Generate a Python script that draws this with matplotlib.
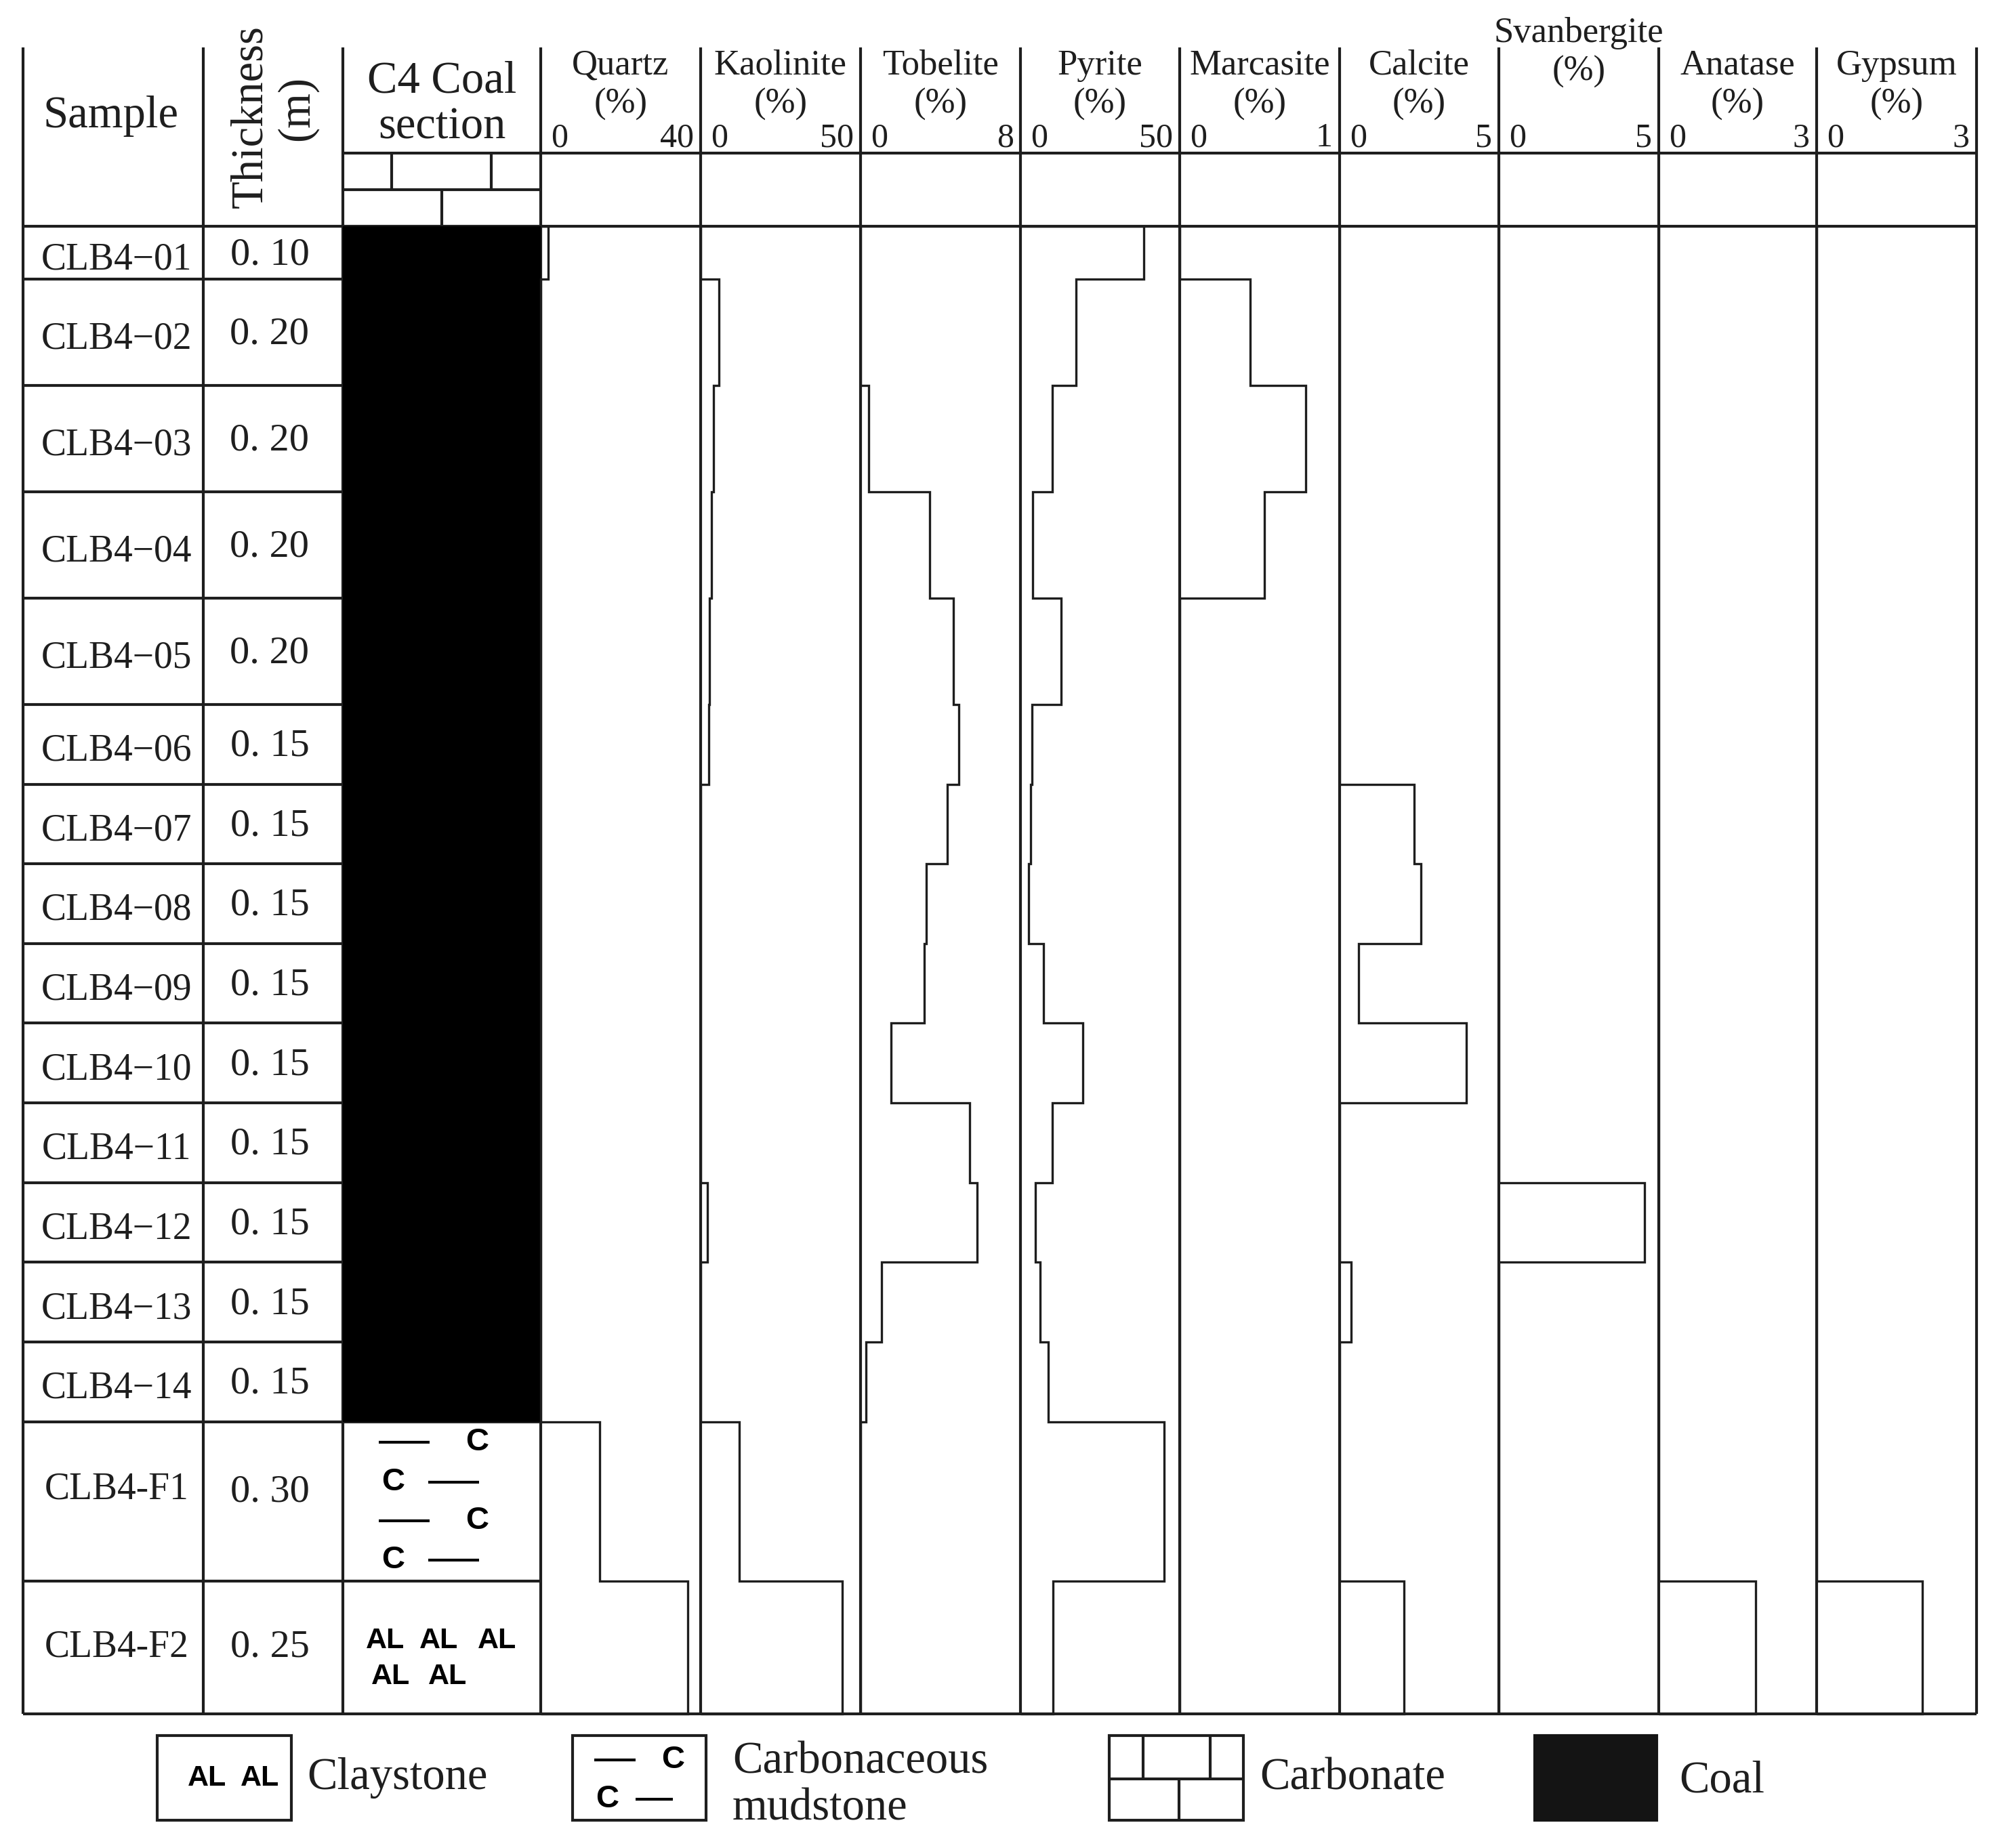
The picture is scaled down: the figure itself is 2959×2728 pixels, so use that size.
import matplotlib
matplotlib.use('Agg')
import matplotlib.pyplot as plt
import numpy as np

# ---------------- data ----------------
samples = ['CLB4−01', 'CLB4−02', 'CLB4−03', 'CLB4−04', 'CLB4−05', 'CLB4−06',
           'CLB4−07', 'CLB4−08', 'CLB4−09', 'CLB4−10', 'CLB4−11', 'CLB4−12',
           'CLB4−13', 'CLB4−14', 'CLB4-F1', 'CLB4-F2']
thickness = [0.10, 0.20, 0.20, 0.20, 0.20, 0.15, 0.15, 0.15, 0.15, 0.15,
             0.15, 0.15, 0.15, 0.15, 0.30, 0.25]
thickness_labels = ['0. 10', '0. 20', '0. 20', '0. 20', '0. 20', '0. 15',
                    '0. 15', '0. 15', '0. 15', '0. 15', '0. 15', '0. 15',
                    '0. 15', '0. 15', '0. 30', '0. 25']
lithology = ['Coal'] * 14 + ['Carbonaceous mudstone', 'Claystone']

minerals = ['Quartz', 'Kaolinite', 'Tobelite', 'Pyrite', 'Marcasite',
            'Calcite', 'Svanbergite', 'Anatase', 'Gypsum']
mineral_max = [40, 50, 8, 50, 1, 5, 5, 3, 3]

quartz = [1.8, 0, 0, 0, 0, 0, 0, 0, 0, 0, 0, 0, 0, 0, 14.7, 36.8]
kaolinite = [0, 5.7, 4.0, 3.4, 2.8, 2.5, 0, 0, 0, 0, 0, 2.2, 0, 0, 12.0, 44.2]
tobelite = [0, 0, 0.39, 3.46, 4.64, 4.92, 4.34, 3.28, 3.2, 1.53, 5.46, 5.83,
            1.05, 0.27, 0, 0]
pyrite = [38.7, 17.5, 10.1, 3.9, 12.7, 3.6, 3.1, 2.6, 7.3, 19.5, 9.9, 4.7,
          6.1, 8.8, 45.0, 10.2]
marcasite = [0, 0.44, 0.79, 0.53, 0, 0, 0, 0, 0, 0, 0, 0, 0, 0, 0, 0]
calcite = [0, 0, 0, 0, 0, 0, 2.33, 2.55, 0.6, 3.97, 0, 0, 0.37, 0, 0, 2.02]
svanbergite = [0, 0, 0, 0, 0, 0, 0, 0, 0, 0, 0, 4.56, 0, 0, 0, 0]
anatase = [0, 0, 0, 0, 0, 0, 0, 0, 0, 0, 0, 0, 0, 0, 0, 1.84]
gypsum = [0, 0, 0, 0, 0, 0, 0, 0, 0, 0, 0, 0, 0, 0, 0, 1.98]
series = [quartz, kaolinite, tobelite, pyrite, marcasite, calcite,
          svanbergite, anatase, gypsum]

legend_items = ['Claystone', 'Carbonaceous\nmudstone', 'Carbonate', 'Coal']

# ---------------- layout ----------------
W, H = 2959, 2728
DPI = 100
fig = plt.figure(figsize=(W / DPI, H / DPI), dpi=DPI)
fig.patch.set_facecolor('white')

SERIF = ['Liberation Serif', 'DejaVu Serif']
SANSN = ['Liberation Sans Narrow', 'Liberation Sans', 'DejaVu Sans']
INK = '#1e1e1e'
LW = 3.0
LW_STEP = 2.4

x_edges = [34, 300, 506, 798, 1034, 1270, 1506, 1741, 1977, 2212, 2448, 2681, 2917]
y_head_top = 70
y_tick_line = 226
y_carb_mid = 280
y_data_top = 334
y_data_bot = 2530

edges = np.concatenate([[0.0], np.cumsum(thickness)])
total = edges[-1]
px_per_m = (y_data_bot - y_data_top) / total


def fy(py):
    return 1 - py / H


# background axes (pixel coords)
bg = fig.add_axes([0, 0, 1, 1])
bg.set_xlim(0, W)
bg.set_ylim(H, 0)
bg.axis('off')

# table axes: x in pixels, y in depth (m)
tab = fig.add_axes([0, fy(y_data_bot), 1, (y_data_bot - y_data_top) / H])
tab.set_xlim(0, W)
tab.set_ylim(total, 0)
tab.axis('off')
tab.patch.set_alpha(0)

# ---- frame lines ----
bg.vlines(x_edges, y_head_top, y_data_bot, color=INK, lw=LW)
bg.hlines(y_tick_line, x_edges[2], x_edges[-1], color=INK, lw=LW)
bg.hlines(y_carb_mid, x_edges[2], x_edges[3], color=INK, lw=LW)
bg.hlines([y_data_top, y_data_bot], x_edges[0], x_edges[-1], color=INK, lw=LW)

# carbonate pattern in header
cw = x_edges[3] - x_edges[2]
bg.vlines([x_edges[2] + 0.245 * cw, x_edges[2] + 0.75 * cw], y_tick_line, y_carb_mid, color=INK, lw=LW)
bg.vlines([x_edges[2] + 0.5 * cw], y_carb_mid, y_data_top, color=INK, lw=LW)

# ---- header texts ----
bg.text(164, 172, 'Sample', ha='center', va='center', fontsize=48, family=SERIF, color=INK)
bg.text(370, 172, 'Thickness', ha='center', va='center', rotation=90, fontsize=48,
        family=SERIF, color=INK)
bg.text(438, 160, '(m)', ha='center', va='center', rotation=90, fontsize=48,
        family=SERIF, color=INK)
bg.text(652, 120, 'C4 Coal', ha='center', va='center', fontsize=48, family=SERIF, color=INK)
bg.text(652, 188, 'section', ha='center', va='center', fontsize=48, family=SERIF, color=INK)

for i, (name, mx) in enumerate(zip(minerals, mineral_max)):
    xl, xr = x_edges[3 + i], x_edges[4 + i]
    xc = (xl + xr) / 2
    if name == 'Svanbergite':
        y_name, y_pct = 49, 106
    else:
        y_name, y_pct = 97, 154
    bg.text(xc, y_name, name, ha='center', va='center', fontsize=38, family=SERIF, color=INK)
    bg.text(xc, y_pct, '(%)', ha='center', va='center', fontsize=38, family=SERIF, color=INK)
    bg.text(xl + 15, 204, '0', ha='left', va='center', fontsize=36, family=SERIF, color=INK)
    bg.text(xr - 10, 204, f'{mx:g}', ha='right', va='center', fontsize=36, family=SERIF, color=INK)

# ---- table body ----
centers = (edges[:-1] + edges[1:]) / 2
for i, (s, t, lith) in enumerate(zip(samples, thickness_labels, lithology)):
    if lith == 'Coal':
        ds, dt = 10 / px_per_m, 3 / px_per_m
    elif lith == 'Carbonaceous mudstone':
        ds, dt = -18 / px_per_m, -14 / px_per_m
    else:
        ds, dt = 0, 0
    tab.text(172, centers[i] + ds, s, ha='center', va='center', fontsize=40, family=SERIF, color=INK)
    tab.text(398, centers[i] + dt, t, ha='center', va='center', fontsize=42, family=SERIF, color=INK)
    if lith == 'Coal':
        tab.barh(centers[i], x_edges[3] - x_edges[2], left=x_edges[2], height=thickness[i],
                 color='black', lw=0, zorder=3)

# row lines: across sample/thickness columns, and into section column only where not coal on both sides
tab.hlines(edges[1:-1], x_edges[0], x_edges[2], color=INK, lw=LW, zorder=2)
for k in range(1, len(edges) - 1):
    if not (lithology[k - 1] == 'Coal' and lithology[k] == 'Coal'):
        tab.hlines(edges[k], x_edges[2], x_edges[3], color=INK, lw=LW, zorder=2)


def carb_mud_pattern(ax, x0, x1, ys, fs, lw, fracs):
    w = x1 - x0
    (a0, a1, ac), (b_c, b0, b1) = fracs
    for k, y in enumerate(ys):
        if k % 2 == 0:
            ax.hlines(y, x0 + a0 * w, x0 + a1 * w, color='black', lw=lw, zorder=4)
            ax.text(x0 + ac * w, y, 'C', ha='center', va='center', fontsize=fs,
                    family=SANSN, fontweight='bold', color='black', zorder=4)
        else:
            ax.text(x0 + b_c * w, y, 'C', ha='center', va='center', fontsize=fs,
                    family=SANSN, fontweight='bold', color='black', zorder=4)
            ax.hlines(y, x0 + b0 * w, x0 + b1 * w, color='black', lw=lw, zorder=4)


# F1 carbonaceous mudstone pattern
i_f1 = lithology.index('Carbonaceous mudstone')
ys_f1 = [edges[i_f1] + thickness[i_f1] * f for f in (0.13, 0.38, 0.62, 0.87)]
carb_mud_pattern(tab, x_edges[2], x_edges[3], ys_f1, 34, 3.0,
                 ((0.18, 0.44, 0.68), (0.255, 0.43, 0.69)))

# F2 claystone pattern
i_f2 = lithology.index('Claystone')
y1 = edges[i_f2] + thickness[i_f2] * 0.45
y2 = edges[i_f2] + thickness[i_f2] * 0.72
for xf in (0.215, 0.485, 0.78):
    tab.text(x_edges[2] + xf * cw, y1, 'AL', ha='center', va='center', fontsize=31,
             family=SANSN, fontweight='bold', color='black')
for xf in (0.24, 0.53):
    tab.text(x_edges[2] + xf * cw, y2, 'AL', ha='center', va='center', fontsize=31,
             family=SANSN, fontweight='bold', color='black')

# ---- mineral step profiles ----
for i, (vals, mx) in enumerate(zip(series, mineral_max)):
    xl, xr = x_edges[3 + i], x_edges[4 + i]
    ax = fig.add_axes([xl / W, fy(y_data_bot), (xr - xl) / W, (y_data_bot - y_data_top) / H])
    ax.set_xlim(0, mx)
    ax.set_ylim(total, 0)
    ax.axis('off')
    ax.patch.set_alpha(0)
    st = ax.stairs(vals, edges, orientation='horizontal', baseline=0,
                   color=INK, lw=LW_STEP)
    st.set_clip_on(False)

# ---- legend ----
ly0, ly1 = 2562, 2687
lym = (ly0 + ly1) / 2
# Claystone
bx0, bx1 = 232, 430
bg.add_patch(plt.Rectangle((bx0, ly0), bx1 - bx0, ly1 - ly0, fill=False, ec=INK, lw=LW))
for xc in (306, 384):
    bg.text(xc, lym, 'AL', ha='center', va='center', fontsize=31, family=SANSN,
            fontweight='bold', color='black')
bg.text(453, lym, legend_items[0], ha='left', va='center', fontsize=48, family=SERIF, color=INK)

# Carbonaceous mudstone
bx0, bx1 = 845, 1042
bg.add_patch(plt.Rectangle((bx0, ly0), bx1 - bx0, ly1 - ly0, fill=False, ec=INK, lw=LW))
carb_mud_pattern(bg, bx0, bx1, [2598, 2656], 34, 3.0,
                 ((0.16, 0.47, 0.75), (0.26, 0.47, 0.75)))
bg.text(1081, lym + 11, legend_items[1], ha='left', va='center', fontsize=48, family=SERIF,
        color=INK, linespacing=1.15)

# Carbonate
bx0, bx1 = 1637, 1835
bg.add_patch(plt.Rectangle((bx0, ly0), bx1 - bx0, ly1 - ly0, fill=False, ec=INK, lw=LW))
bg.hlines(2626, bx0, bx1, color=INK, lw=LW)
bg.vlines([1687, 1786], ly0, 2626, color=INK, lw=LW)
bg.vlines([1740], 2626, ly1, color=INK, lw=LW)
bg.text(1859, lym, legend_items[2], ha='left', va='center', fontsize=48, family=SERIF, color=INK)

# Coal
bx0, bx1 = 2265, 2445
bg.add_patch(plt.Rectangle((bx0, ly0), bx1 - bx0, ly1 - ly0, fc='#141414', ec='#141414', lw=LW))
bg.text(2478, lym + 5, legend_items[3], ha='left', va='center', fontsize=48, family=SERIF, color=INK)

fig.savefig('out.png', dpi=DPI, facecolor='white')
